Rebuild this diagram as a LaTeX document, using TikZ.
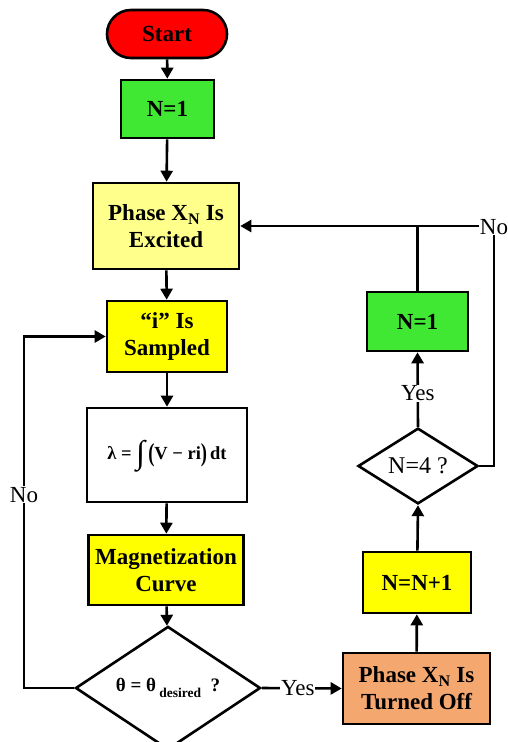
\documentclass[tikz,border=0pt]{standalone}
\usepackage{fontspec}
\setmainfont{Liberation Serif}
\usetikzlibrary{arrows.meta,shapes.geometric,calc}
\definecolor{cred}{RGB}{255,0,0}
\definecolor{cgreen}{RGB}{64,232,52}
\definecolor{cyellowlight}{RGB}{255,255,140}
\definecolor{cyellow}{RGB}{255,255,0}
\definecolor{corange}{RGB}{244,168,112}
\tikzset{
  box/.style={draw=black, line width=2.6pt, rectangle, align=center, inner sep=0pt,
    font=\bfseries\fontsize{23}{27}\selectfont},
  dia/.style={draw=black, line width=2.6pt, diamond, inner sep=0pt, align=center},
  arr/.style={line width=2.6pt, -{Triangle[width=12pt,length=11pt]}},
  ln/.style={line width=2.6pt},
  lbl/.style={fill=white, inner sep=1pt, font=\fontsize{23}{26}\selectfont}
}
\begin{document}
\begin{tikzpicture}[x=1pt,y=1pt]
\useasboundingbox (0,0) rectangle (507,-742);
\node[box, fill=cred, rounded corners=24pt, minimum width=120pt, minimum height=48pt] (start) at (167,-34) {Start};
\node[box, fill=cgreen, minimum width=93pt, minimum height=58pt] (n1) at (167.5,-109) {N=1};
\node[box, fill=cyellowlight, minimum width=146pt, minimum height=86pt] (exc) at (166,-226) {Phase X\textsubscript{N} Is\\Excited};
\node[box, fill=cyellow, minimum width=120pt, minimum height=71pt] (samp) at (167,-336.5) {“i” Is\\Sampled};
\node[box, fill=white, minimum width=160pt, minimum height=94pt, font=\bfseries\fontsize{18.5}{20}\selectfont] (integ) at (167,-455)
  {λ = \raisebox{-4.6pt}[0pt][0pt]{\resizebox*{9pt}{32pt}{∫}}\,\raisebox{-0.12em}{\scalebox{1}[1.4]{(}}V − ri\raisebox{-0.12em}{\scalebox{1}[1.4]{)}}\,dt};
\node[box, fill=cyellow, minimum width=155pt, minimum height=70pt] (mag) at (166,-570) {Magnetization\\Curve};
\node[dia, fill=white, minimum width=185pt, minimum height=106pt, font=\bfseries\fontsize{19}{20}\selectfont] (d1) at (168,-688)
  {θ = θ\,\raisebox{-0.3em}{\fontsize{13.5}{15}\selectfont desired}\ \ ?};
\node[box, fill=corange, minimum width=147pt, minimum height=71pt] (off) at (416.5,-688.5) {Phase X\textsubscript{N} Is\\Turned Off};
\node[box, fill=cyellow, minimum width=108pt, minimum height=61pt] (nn1) at (417,-582.5) {N=N+1};
\node[dia, fill=white, minimum width=120pt, minimum height=68pt, font=\fontsize{24}{26}\selectfont] (d2) at (418,-466) {N=4 ?};
\node[box, fill=cgreen, minimum width=101pt, minimum height=59pt] (n1b) at (417.5,-321.5) {N=1};

\coordinate (lc1) at (24,-688);
\coordinate (lc2) at (24,-336.5);
\coordinate (rc1) at (494,-466);
\coordinate (rc2) at (494,-226);
\coordinate (jn) at (417.5,-226);

\draw[arr] (start) -- (n1);
\draw[arr] (n1) -- (exc);
\draw[arr] (exc) -- (samp);
\draw[arr] (samp) -- (integ);
\draw[arr] (integ) -- (mag);
\draw[arr] (mag) -- (d1);
\draw[arr] (d1.west) -- (lc1) -- node[lbl, pos=0.55] {No} (lc2) -- (samp.west);
\draw[arr] (d1.east) -- node[lbl, pos=0.45] {Yes} (off.west);
\draw[arr] (off) -- (nn1);
\draw[arr] (nn1) -- (d2.south);
\draw[arr] (d2.north) -- node[lbl, pos=0.45] {Yes} (n1b.south);
\draw[ln] (n1b.north) -- (jn);
\draw[arr] (d2.east) -- (rc1) -- (rc2) -- (exc.east);
\node[lbl, inner sep=0.5pt] (no2) at (494,-227) {No};
\end{tikzpicture}
\end{document}
